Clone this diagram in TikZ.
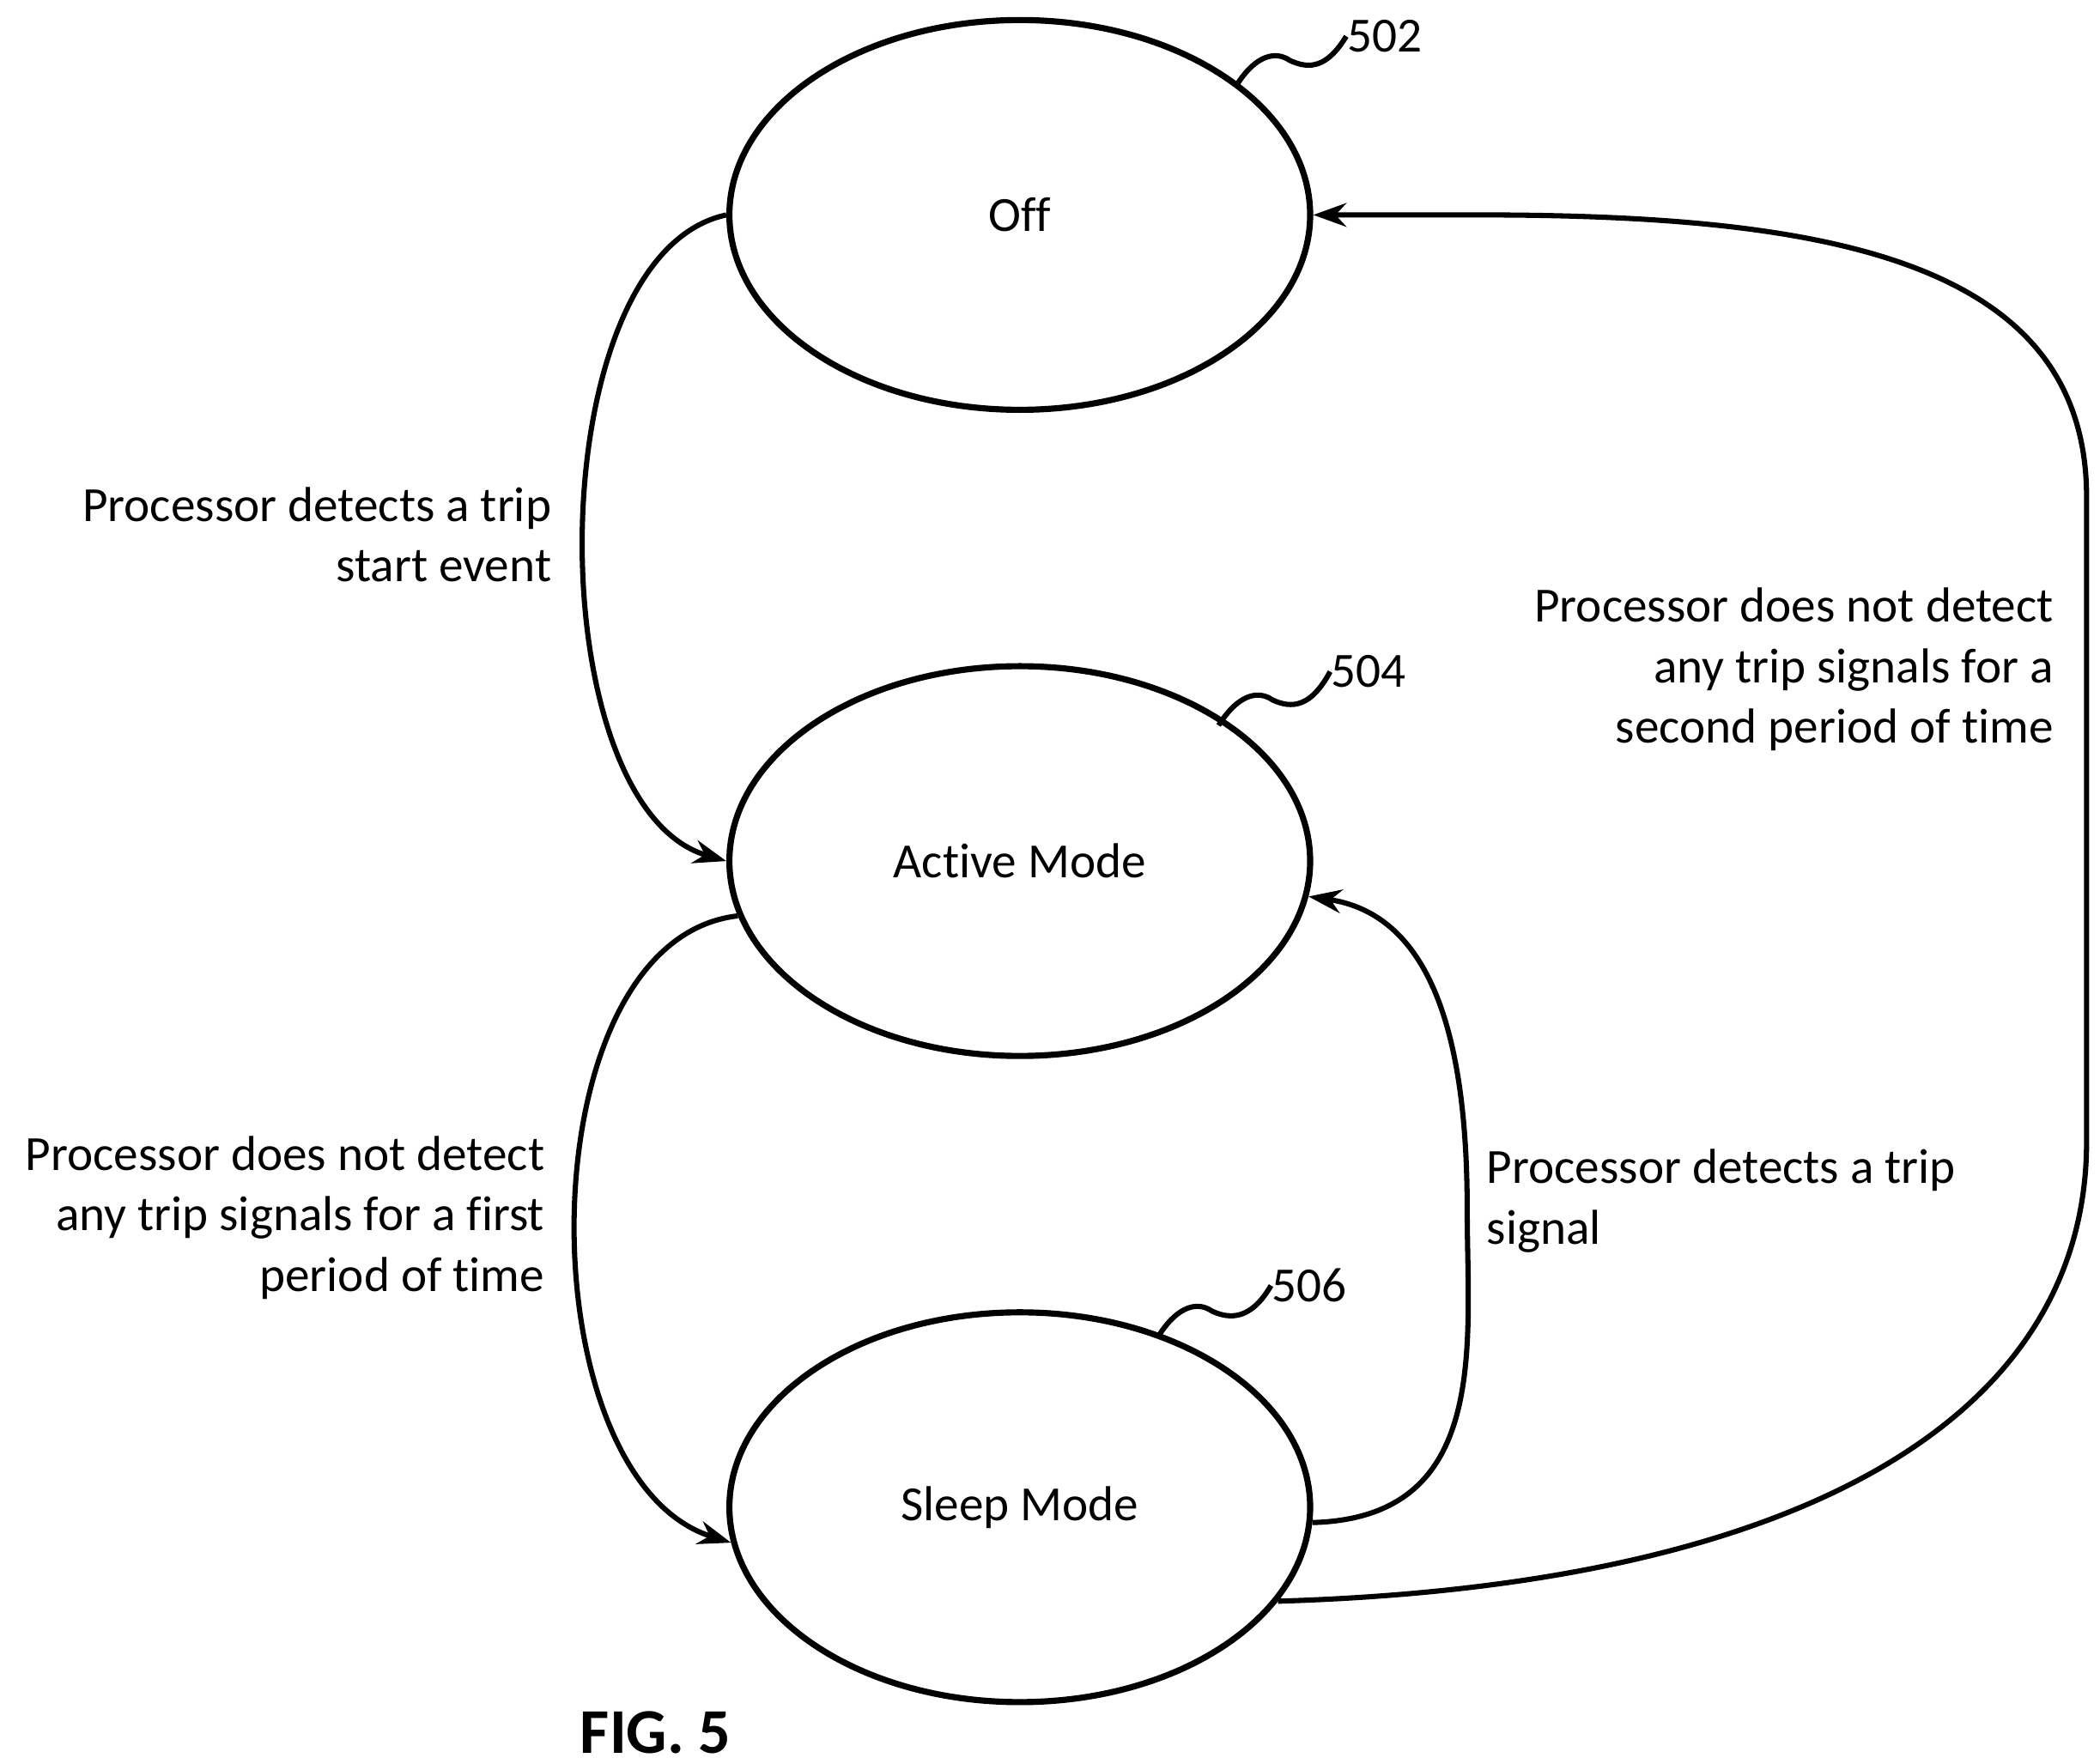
\documentclass[tikz,border=0pt]{standalone}
\usepackage{fontspec}
\setmainfont{Carlito}[Ligatures={NoCommon}]
\usetikzlibrary{shapes.geometric,arrows.meta}
\begin{document}
\begin{tikzpicture}[x=0.01cm,y=-0.01cm,
  st/.style={ellipse,draw,line width=1.3pt,minimum width=4.32cm,minimum height=2.9cm,inner sep=0pt,font=\fontsize{10.4}{12.8}\selectfont},
  lab/.style={font=\fontsize{10.4}{12.8}\selectfont,inner sep=0pt},
  con/.style={line width=1.1pt,-{Stealth[length=7pt,width=5pt]}},
  sq/.style={line width=1.1pt}]
\useasboundingbox (0,0) rectangle (1563,1313);
\node[st] (off) at (759,160) {Off};
\node[st] (act) at (759,641) {Active Mode};
\node[st] (slp) at (759,1122) {Sleep Mode};
\draw[con] (off.west) .. controls (400,190) and (400,600) .. (act.west);
\draw[con] (act.191) .. controls (390,700) and (390,1100) .. (slp.187);
\draw[con] (slp.357) .. controls (1110,1130) and (1092,1000) .. (1092,900) .. controls (1092,760) and (1060,680) .. (act.353);
\draw[con] (slp.340) .. controls (1350,1180) and (1553,1050) .. (1553,850) -- (1553,370) .. controls (1553,190) and (1350,160) .. (1100,160) -- (off.east);
\node[lab,anchor=north east,align=right] (l1) at (411,362) {Processor detects a trip\\start event};
\node[lab,anchor=north east,align=right] (l2) at (406,845) {Processor does not detect\\any trip signals for a first\\period of time};
\node[lab,anchor=north west,align=left] (l3) at (1106,855) {Processor detects a trip\\signal};
\node[lab,anchor=north east,align=right] (l4) at (1529,437) {Processor does not detect\\any trip signals for a\\second period of time};
\node[lab,anchor=west] (n502) at (1002,27) {502};
\node[lab,anchor=west] (n504) at (990,500) {504};
\node[lab,anchor=west] (n506) at (946,957) {506};
\draw[sq] (920,64) .. controls (935,40) and (950,38) .. (960,45) .. controls (975,52) and (988,50) .. (n502.west);
\draw[sq] (907,540) .. controls (922,516) and (937,514) .. (947,521) .. controls (962,528) and (976,526) .. (n504.west);
\draw[sq] (862,995) .. controls (877,971) and (892,969) .. (902,976) .. controls (917,983) and (932,981) .. (n506.west);
\node[font=\fontsize{13.5}{16}\selectfont\bfseries,inner sep=0pt] (fig) at (488,1290) {FIG. 5};
\end{tikzpicture}
\end{document}
